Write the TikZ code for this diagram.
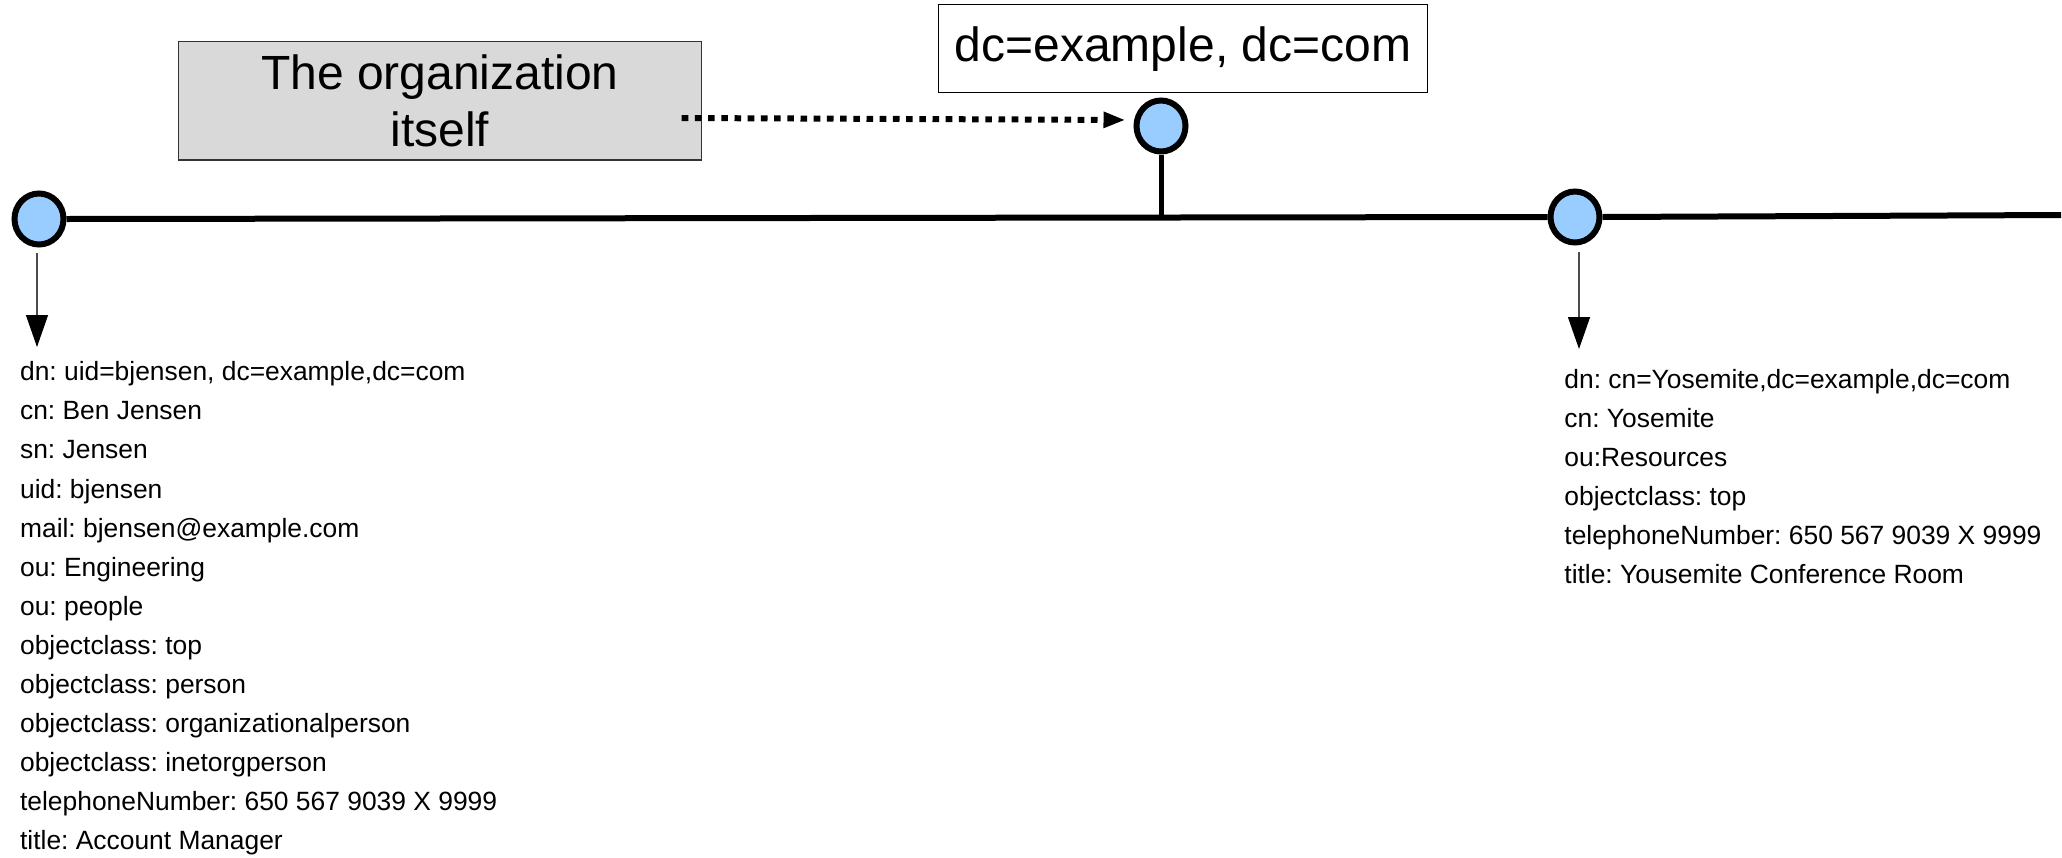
\documentclass[tikz,border=0pt]{standalone}
\usepackage{fontspec}
\setmainfont{Liberation Sans}
\usetikzlibrary{shapes.geometric,arrows.meta}
\definecolor{entryblue}{HTML}{99CCFF}
\definecolor{notegray}{HTML}{D9D9D9}
\frenchspacing
\begin{document}
\begin{tikzpicture}[x=0.5pt,y=-0.5pt,
  entry/.style={ellipse, draw=black, line width=3pt, fill=entryblue,
    minimum width=24.5pt, minimum height=25.5pt, inner sep=0pt},
  trunk/.style={line width=3pt},
  stem/.style={line width=2.5pt},
  pointer/.style={draw=black!70, line width=0.65pt,
    -{Triangle[length=16pt,width=11pt,color=black]}},
  refers/.style={line width=3pt, dash pattern=on 3.3pt off 3.3pt,
    -{Triangle[length=11pt,width=7.5pt]}},
  bigtext/.style={font=\fontsize{24pt}{28.25pt}\selectfont, inner sep=0pt},
  attr/.style={font=\fontsize{13.2pt}{19.5pt}\selectfont, inner sep=0pt, anchor=base west}
]
\useasboundingbox (0,0) rectangle (2062,857);

% labels above the tree
\node[draw=black!80, line width=0.65pt, fill=notegray,
  minimum width=261.7pt, minimum height=59.15pt, bigtext, align=center] (org) at (440,100.8)
  {The organization\\itself};
\node[draw=black, line width=0.65pt, fill=white,
  minimum width=244.25pt, minimum height=44pt, bigtext] (dc) at (1183,48.7) {dc=example, dc=com};

% directory entries
\node[entry] (c1) at (39,219) {};
\node[entry] (c2) at (1161,126) {};
\node[entry] (c3) at (1575,217) {};
\coordinate (busend) at (2061,215);

% the tree trunk and the root's stem
\draw[trunk] (c1.east) -- (c3.west);
\draw[trunk] (c3.east) -- (busend);
\draw[stem] (c2.south) -- (c2.south |- c3.west);

% note pointing at the root entry
\coordinate (dstart) at (681.7,118);
\draw[refers, shorten >=4pt] (dstart) -- ([yshift=3pt]c2.west);

% pointers from entries to their attributes
\coordinate (t1) at (37,347);
\coordinate (t3) at (1579,349);
\draw[pointer] ([xshift=-1pt,yshift=-2.75pt]c1.south) -- (t1);
\draw[pointer] ([xshift=2pt,yshift=-3.25pt]c3.south) -- (t3);

% attribute lists
\foreach \t [count=\i] in {
  {dn: uid=bjensen, dc=example,dc=com},
  {cn: Ben Jensen},
  {sn: Jensen},
  {uid: bjensen},
  {mail: bjensen@example.com},
  {ou: Engineering},
  {ou: people},
  {objectclass: top},
  {objectclass: person},
  {objectclass: organizationalperson},
  {objectclass: inetorgperson},
  {telephoneNumber: 650 567 9039 X 9999},
  {title: Account Manager}}
  \node[attr] (L\i) at (19.7,{380.7+39.1*(\i-1)}) {\t};

\foreach \t [count=\i] in {
  {dn: cn=Yosemite,dc=example,dc=com},
  {cn: Yosemite},
  {ou:Resources},
  {objectclass: top},
  {telephoneNumber: 650 567 9039 X 9999},
  {title: Yousemite Conference Room}}
  \node[attr] (R\i) at (1564,{388+39.1*(\i-1)}) {\t};
\end{tikzpicture}
\end{document}
